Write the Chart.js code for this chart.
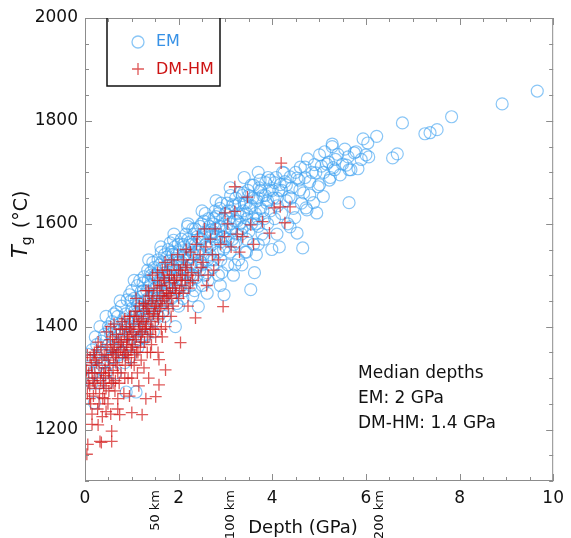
<!DOCTYPE html>
<html>
<head>
<meta charset="utf-8">
<script src="https://cdn.jsdelivr.net/npm/chart.js@4.4.0/dist/chart.umd.min.js"></script>
<style>
  body { margin: 0; background: #fff; }
  #wrap { width: 571px; height: 538px; }
</style>
</head>
<body>
<div id="wrap"><canvas id="tgChart" width="571" height="538"></canvas></div>
<script>
// tick labels
const xTicks = [0, 2, 4, 6, 8, 10];
const yTicks = [1200, 1400, 1600, 1800, 2000];
// secondary depth marks (km) and where they sit in GPa
const kmLabels = ["50 km", "100 km", "200 km"];
const kmAtGPa = [1.5, 3.1, 6.3];
const seriesNames = ["EM", "DM-HM"];
const noteLines = ["Median depths", "EM: 2 GPa", "DM-HM: 1.4 GPa"];

// EM points: [depth GPa, Tg °C]
const emPoints = [
  [0.05,1320],[0.07,1346],[0.1,1300],[0.12,1335],[0.2,1252],[0.18,1310],[0.25,1365],[0.28,1340],[0.3,1290],[0.15,1355],
  [0.32,1400],[0.35,1372],[0.38,1330],[0.4,1355],[0.42,1385],[0.45,1310],[0.48,1291],[0.5,1365],[0.52,1395],[0.55,1340],
  [0.58,1410],[0.6,1378],[0.33,1318],[0.44,1345],[0.56,1360],
  [0.62,1425],[0.65,1310],[0.67,1429],[0.7,1390],[0.72,1355],[0.75,1405],[0.78,1440],[0.8,1372],[0.82,1415],[0.85,1330],
  [0.88,1273],[0.9,1452],[0.63,1395],[0.68,1365],[0.76,1385],[0.84,1398],[0.87,1425],[0.71,1345],
  [0.92,1410],[0.95,1462],[0.97,1385],[1.0,1435],[1.02,1400],[1.05,1455],[1.08,1372],[1.09,1273],[1.1,1425],[1.12,1480],
  [1.15,1445],[1.18,1395],[1.2,1468],[0.98,1450],[1.03,1418],[1.14,1412],[1.17,1490],[1.06,1430],[1.13,1360],[1.19,1438],
  [1.22,1420],[1.24,1485],[1.26,1497],[1.28,1450],[1.3,1405],[1.32,1470],[1.34,1510],[1.36,1440],[1.38,1480],[1.4,1425],
  [1.42,1500],[1.44,1462],[1.46,1390],[1.48,1515],[1.5,1475],[1.23,1460],[1.29,1435],[1.35,1490],[1.41,1455],[1.45,1525],
  [1.49,1448],[1.27,1378],[1.33,1418],
  [1.52,1500],[1.54,1455],[1.56,1530],[1.58,1485],[1.6,1440],[1.62,1512],[1.64,1526],[1.66,1470],[1.68,1495],[1.7,1540],
  [1.72,1460],[1.74,1518],[1.76,1485],[1.78,1550],[1.8,1505],[1.53,1478],[1.57,1420],[1.63,1545],[1.67,1430],[1.71,1505],
  [1.75,1475],[1.79,1528],[1.61,1490],[1.69,1448],
  [1.82,1563],[1.84,1480],[1.86,1520],[1.88,1540],[1.9,1495],[1.92,1555],[1.93,1400],[1.95,1510],[1.97,1530],[2.0,1470],
  [2.02,1545],[2.04,1515],[2.06,1570],[2.08,1490],[2.1,1535],[1.85,1455],[1.89,1568],[1.94,1475],[1.99,1560],[2.03,1500],
  [2.07,1525],[2.09,1455],[1.83,1512],[1.96,1445],
  [2.12,1555],[2.14,1505],[2.16,1580],[2.18,1530],[2.2,1485],[2.22,1550],[2.25,1565],[2.27,1520],[2.3,1590],[2.32,1540],
  [2.34,1470],[2.36,1560],[2.38,1515],[2.4,1575],[2.13,1470],[2.19,1595],[2.24,1500],[2.29,1545],[2.33,1580],[2.37,1495],
  [2.15,1540],[2.26,1480],
  [2.42,1439],[2.44,1550],[2.46,1595],[2.48,1525],[2.5,1570],[2.52,1540],[2.54,1605],[2.56,1500],[2.58,1560],[2.6,1585],
  [2.62,1530],[2.64,1610],[2.66,1555],[2.68,1575],[2.7,1582],[2.45,1510],[2.51,1480],[2.57,1620],[2.63,1490],[2.67,1540],
  [2.49,1600],[2.61,1465],
  [2.72,1560],[2.74,1600],[2.76,1530],[2.78,1625],[2.8,1614],[2.82,1575],[2.84,1545],[2.86,1595],[2.88,1630],[2.9,1565],
  [2.92,1505],[2.94,1610],[2.97,1462],[2.98,1585],[3.0,1620],[2.73,1515],[2.79,1590],[2.85,1500],[2.91,1640],[2.96,1550],
  [2.77,1570],[2.89,1480],
  [3.02,1595],[3.04,1640],[3.06,1570],[3.08,1610],[3.1,1545],[3.12,1625],[3.14,1590],[3.16,1637],[3.18,1560],[3.2,1605],
  [3.22,1650],[3.24,1580],[3.26,1620],[3.28,1530],[3.3,1600],[3.05,1520],[3.11,1655],[3.17,1500],[3.23,1565],[3.29,1640],
  [3.32,1615],[3.34,1580],[3.36,1655],[3.38,1625],[3.4,1595],[3.42,1545],[3.44,1640],[3.46,1610],[3.48,1665],[3.5,1585],
  [3.52,1630],[3.54,1472],[3.56,1600],[3.58,1650],[3.6,1560],[3.62,1505],[3.35,1520],[3.45,1570],[3.55,1675],[3.39,1660],
  [3.64,1620],[3.67,1645],[3.7,1595],[3.72,1670],[3.75,1630],[3.78,1580],[3.8,1655],[3.83,1610],[3.86,1680],[3.88,1640],
  [3.9,1600],[3.93,1665],[3.96,1625],[3.99,1550],[3.66,1540],[3.74,1685],[3.82,1570],[3.91,1690],[3.69,1610],
  [4.02,1650],[4.05,1610],[4.08,1690],[4.11,1635],[4.14,1665],[4.17,1676],[4.2,1620],[4.25,1699],[4.27,1682],[4.3,1645],
  [4.33,1600],[4.36,1653],[4.38,1691],[4.38,1594],[4.42,1670],[4.45,1630],[4.48,1612],[4.1,1580],[4.22,1700],[4.15,1555],
  [4.53,1582],[4.53,1689],[4.57,1685],[4.59,1666],[4.62,1640],[4.65,1553],[4.72,1631],[4.74,1627],[4.75,1726],[4.8,1682],
  [4.8,1656],[4.85,1700],[4.88,1641],[4.93,1699],[4.95,1621],[4.98,1672],[4.7,1710],[4.67,1660],
  [5.01,1734],[5.01,1676],[5.05,1712],[5.09,1653],[5.16,1716],[5.2,1720],[5.22,1685],[5.24,1690],[5.28,1750],[5.28,1755],
  [5.3,1709],[5.33,1705],[5.4,1735],[5.45,1695],[5.5,1716],[5.12,1740],
  [5.58,1714],[5.62,1730],[5.64,1705],[5.64,1641],[5.68,1705],[5.75,1738],[5.79,1740],[5.83,1707],[5.94,1765],[6.0,1734],
  [6.04,1757],[6.06,1730],[6.23,1770],[5.9,1725],
  [6.57,1728],[6.67,1736],[6.78,1796],[7.26,1775],[7.37,1777],[7.52,1783],[7.83,1808],[8.91,1833],[9.66,1858],
  // denser core
  [0.4,1330],[0.55,1385],[0.7,1420],[0.8,1350],[0.9,1400],[0.95,1365],[1.0,1470],[1.05,1395],[1.1,1450],[1.15,1375],
  [1.2,1430],[1.25,1470],[1.3,1385],[1.35,1455],[1.4,1505],[1.45,1440],[1.5,1500],[1.55,1465],[1.6,1520],[1.65,1455],
  [1.7,1485],[1.75,1535],[1.8,1470],[1.85,1545],[1.9,1515],[1.95,1540],[2.0,1525],[2.05,1480],[2.1,1560],[2.15,1515],
  [2.2,1570],[2.25,1535],[2.3,1500],[2.35,1590],[2.4,1545],[2.45,1570],[2.5,1520],[2.55,1580],[2.6,1555],[2.65,1595],
  [2.7,1530],[2.75,1610],[2.8,1580],[2.85,1620],[2.9,1595],[2.95,1575],[3.0,1555],[3.05,1625],[3.1,1600],[3.15,1570],
  [3.2,1635],[3.25,1605],[3.3,1660],[3.35,1590],[3.4,1640],[3.45,1620],[3.5,1655],[3.55,1635],[3.6,1675],[3.65,1600],
  [3.7,1650],[3.75,1665],[3.8,1625],[3.85,1655],[3.9,1645],[3.95,1685],[4.0,1665],[4.05,1680],[4.1,1650],[4.2,1665],
  [4.3,1675],[4.4,1650],[4.5,1700],[4.6,1710],[4.7,1690],[4.9,1715],[5.1,1700],[5.35,1725],[5.55,1745],[1.12,1440],
  [1.47,1495],[1.77,1500],[2.28,1560],[2.73,1585],[0.6,1340],[0.5,1400],[0.35,1350],[0.25,1320],[0.15,1290],[0.22,1380],
  [0.45,1420],[0.75,1450],[1.05,1490],[1.36,1530],[1.62,1555],[1.9,1580],[2.2,1600],[2.5,1625],[2.8,1645],[3.1,1670],
  [3.4,1690],[3.7,1700],[2.0,1440],[2.3,1460],[2.6,1505],[2.9,1530],[3.2,1520],[3.45,1545],[3.7,1560],[1.7,1420],
  [1.45,1410],[1.2,1380],[0.95,1340],[3.6,1610],[3.0,1570],[2.4,1520]
];

// DM-HM points: [depth GPa, Tg °C]
const dmhmPoints = [
  [0.0,1330],[0.02,1300],[0.04,1152],[0.06,1171],[0.05,1270],[0.08,1310],[0.1,1285],[0.12,1250],[0.14,1325],[0.15,1230],
  [0.17,1295],[0.19,1345],[0.03,1315],[0.11,1340],[0.18,1265],[0.07,1290],
  [0.21,1310],[0.23,1280],[0.25,1355],[0.27,1240],[0.28,1209],[0.3,1325],[0.32,1177],[0.33,1295],[0.35,1175],[0.36,1340],
  [0.38,1262],[0.4,1310],[0.22,1335],[0.26,1300],[0.31,1270],[0.34,1360],[0.37,1225],[0.39,1290],
  [0.41,1345],[0.43,1320],[0.45,1280],[0.47,1365],[0.49,1250],[0.5,1335],[0.52,1300],[0.54,1375],[0.55,1230],[0.57,1197],
  [0.57,1177],[0.58,1350],[0.6,1315],[0.42,1260],[0.46,1390],[0.51,1275],[0.53,1325],[0.56,1290],[0.59,1380],[0.44,1305],
  [0.61,1340],[0.63,1365],[0.65,1295],[0.67,1385],[0.69,1325],[0.7,1260],[0.72,1350],[0.74,1229],[0.75,1395],[0.77,1310],
  [0.78,1370],[0.8,1340],[0.62,1405],[0.66,1330],[0.71,1375],[0.73,1290],[0.76,1355],[0.79,1410],[0.64,1275],[0.68,1350],
  [0.82,1360],[0.84,1385],[0.86,1325],[0.88,1400],[0.9,1345],[0.92,1300],[0.94,1375],[0.96,1420],[0.98,1355],[1.0,1233],
  [1.0,1390],[0.83,1270],[0.85,1415],[0.87,1345],[0.91,1380],[0.93,1340],[0.95,1265],[0.97,1395],[0.99,1330],[0.89,1365],
  [1.02,1365],[1.04,1405],[1.06,1345],[1.08,1430],[1.1,1380],[1.12,1310],[1.14,1395],[1.16,1440],[1.18,1360],[1.2,1415],
  [1.22,1229],[1.03,1385],[1.05,1325],[1.07,1375],[1.11,1420],[1.13,1350],[1.15,1285],[1.17,1400],[1.19,1370],[1.09,1455],
  [1.23,1390],[1.25,1430],[1.27,1370],[1.29,1445],[1.31,1405],[1.33,1350],[1.35,1420],[1.37,1460],[1.39,1385],[1.24,1410],
  [1.26,1320],[1.28,1395],[1.32,1435],[1.34,1380],[1.36,1300],[1.38,1425],[1.3,1470],
  [1.41,1410],[1.43,1450],[1.45,1395],[1.47,1475],[1.49,1430],[1.51,1264],[1.51,1380],[1.53,1445],[1.55,1490],[1.57,1415],
  [1.58,1287],[1.58,1336],[1.6,1460],[1.42,1365],[1.46,1425],[1.5,1400],[1.54,1470],[1.56,1350],[1.59,1435],[1.44,1500],
  [1.62,1440],[1.64,1480],[1.66,1420],[1.68,1495],[1.7,1455],[1.72,1316],[1.72,1400],[1.74,1470],[1.76,1510],[1.78,1435],
  [1.8,1485],[1.63,1395],[1.67,1460],[1.71,1525],[1.75,1445],[1.79,1460],[1.65,1510],
  [1.82,1465],[1.85,1500],[1.88,1440],[1.9,1520],[1.93,1475],[1.96,1495],[2.0,1455],[2.04,1369],[2.04,1510],[2.07,1480],
  [2.1,1530],[1.84,1420],[1.91,1490],[1.98,1540],[2.02,1470],[2.08,1500],[1.87,1475],
  [2.14,1490],[2.18,1520],[2.22,1475],[2.25,1545],[2.28,1505],[2.32,1530],[2.36,1417],[2.38,1560],[2.42,1500],[2.46,1540],
  [2.48,1515],[2.2,1440],[2.3,1490],[2.4,1575],[2.16,1550],
  [2.52,1525],[2.58,1555],[2.63,1500],[2.68,1570],[2.72,1540],[2.78,1590],[2.85,1530],[2.9,1560],[2.95,1439],[2.98,1575],
  [2.6,1480],[2.75,1510],[2.55,1590],
  [3.05,1600],[2.99,1621],[3.2,1624],[3.12,1555],[3.2,1672],[3.25,1580],[3.37,1575],[3.47,1652],[3.54,1598],[3.79,1604],
  [3.94,1582],[4.04,1631],[4.17,1633],[4.38,1633],[4.27,1602],[4.19,1718],[3.3,1545],[3.6,1560],
  // denser core
  [0.05,1345],[0.1,1260],[0.15,1310],[0.2,1290],[0.25,1330],[0.3,1250],[0.35,1310],[0.4,1285],[0.45,1345],[0.5,1310],
  [0.55,1355],[0.6,1290],[0.65,1345],[0.7,1310],[0.75,1370],[0.8,1395],[0.85,1350],[0.9,1375],[0.95,1400],[1.0,1360],
  [1.05,1420],[1.1,1350],[1.15,1410],[1.2,1385],[1.25,1445],[1.3,1400],[1.35,1440],[1.4,1395],[1.45,1455],[1.5,1440],
  [1.55,1420],[1.6,1480],[1.65,1450],[1.7,1490],[1.75,1465],[1.8,1500],[1.85,1455],[1.9,1490],[1.95,1465],[2.0,1510],
  [2.05,1490],[2.1,1465],[2.15,1515],[2.2,1500],[2.25,1485],[0.28,1370],[0.55,1400],[0.85,1300],[1.0,1300],[1.2,1335],
  [1.4,1350],[1.65,1380],[0.15,1210],[0.45,1235],[0.7,1240],[1.3,1260],[0.2,1350],[0.6,1360],[0.95,1420],[1.35,1470],
  [1.55,1505],[1.85,1530]
];

const emColor = "rgba(60, 160, 240, 0.6)";
const dmColor = "rgba(210, 25, 25, 0.72)";
const axisGray = "#8c8c8c";
const font = "DejaVu Sans";

// 坐标框、内向刻度、图例和注释
const decorPlugin = {
  id: "decor",
  afterDraw(chart) {
    const ctx = chart.ctx;
    const a = chart.chartArea;
    const xs = chart.scales.x;
    const ys = chart.scales.y;
    ctx.save();

    // frame
    ctx.strokeStyle = axisGray;
    ctx.lineWidth = 1;
    ctx.strokeRect(a.left + 0.5, a.top + 0.5, a.right - a.left - 1, a.bottom - a.top - 1);

    // inward ticks
    ctx.beginPath();
    for (let v = 0; v <= 10; v += 0.5) {
      const px = Math.round(xs.getPixelForValue(v)) + 0.5;
      const len = v % 2 === 0 ? 7 : 4;
      ctx.moveTo(px, a.bottom); ctx.lineTo(px, a.bottom - len);
      ctx.moveTo(px, a.top); ctx.lineTo(px, a.top + len);
    }
    for (let v = 1100; v <= 2000; v += 50) {
      const py = Math.round(ys.getPixelForValue(v)) + 0.5;
      const len = v % 200 === 0 ? 7 : 4;
      ctx.moveTo(a.left, py); ctx.lineTo(a.left + len, py);
      ctx.moveTo(a.right, py); ctx.lineTo(a.right - len, py);
    }
    ctx.stroke();

    // legend box (top edge sits on the frame)
    ctx.strokeStyle = "#111";
    ctx.lineWidth = 1.5;
    ctx.beginPath();
    ctx.moveTo(107, a.top); ctx.lineTo(107, 86); ctx.lineTo(220, 86); ctx.lineTo(220, a.top);
    ctx.stroke();

    ctx.lineWidth = 1.3;
    ctx.strokeStyle = emColor;
    ctx.beginPath(); ctx.arc(138, 42, 6, 0, Math.PI * 2); ctx.stroke();
    ctx.strokeStyle = dmColor;
    ctx.beginPath();
    ctx.moveTo(132, 69); ctx.lineTo(144, 69);
    ctx.moveTo(138, 63); ctx.lineTo(138, 75);
    ctx.stroke();

    ctx.font = "16px '" + font + "'";
    ctx.textAlign = "left";
    ctx.textBaseline = "middle";
    ctx.fillStyle = "rgb(55, 145, 230)";
    ctx.fillText(seriesNames[0], 156, 42);
    ctx.fillStyle = "rgb(205, 20, 20)";
    ctx.fillText(seriesNames[1], 156, 70);

    // note
    ctx.fillStyle = "#111";
    ctx.font = "17px '" + font + "'";
    ctx.textBaseline = "alphabetic";
    noteLines.forEach((t, i) => ctx.fillText(t, 358, 378 + i * 25));

    // x axis title
    ctx.font = "18px '" + font + "'";
    ctx.textAlign = "center";
    ctx.fillText("Depth (GPa)", 303, 533);

    // km labels, rotated
    ctx.font = "13px '" + font + "'";
    kmLabels.forEach((t, i) => {
      const px = xs.getPixelForValue(kmAtGPa[i]);
      ctx.save();
      ctx.translate(px, 490);
      ctx.rotate(-Math.PI / 2);
      ctx.textAlign = "right";
      ctx.textBaseline = "middle";
      ctx.fillText(t, 0, 0);
      ctx.restore();
    });

    // y axis title: T_g (°C)
    ctx.save();
    ctx.translate(27, 258);
    ctx.rotate(-Math.PI / 2);
    ctx.textAlign = "left";
    ctx.textBaseline = "alphabetic";
    ctx.font = "italic 21px '" + font + "'";
    ctx.fillText("T", 0, 0);
    let w = ctx.measureText("T").width;
    ctx.font = "14px '" + font + "'";
    ctx.fillText("g", w, 4);
    w += ctx.measureText("g").width + 2;
    ctx.font = "19px '" + font + "'";
    ctx.fillText(" (°C)", w, 0);
    ctx.restore();

    ctx.restore();
  },
};

new Chart(document.getElementById("tgChart"), {
  type: "scatter",
  data: {
    datasets: [
      {
        label: seriesNames[0],
        data: emPoints.map((p) => ({ x: p[0], y: p[1] })),
        pointStyle: "circle",
        pointRadius: 6,
        borderColor: emColor,
        backgroundColor: "rgba(0,0,0,0)",
        borderWidth: 1.2,
        order: 2,
      },
      {
        label: seriesNames[1],
        data: dmhmPoints.map((p) => ({ x: p[0], y: p[1] })),
        pointStyle: "cross",
        pointRadius: 6,
        borderColor: dmColor,
        backgroundColor: dmColor,
        borderWidth: 1.3,
        order: 1,
      },
    ],
  },
  options: {
    responsive: false,
    animation: false,
    events: [],
    layout: { padding: { top: 18, right: 11, left: 0, bottom: 0 } },
    plugins: { legend: { display: false }, tooltip: { enabled: false } },
    scales: {
      x: {
        type: "linear",
        min: 0,
        max: 10,
        afterBuildTicks: (s) => { s.ticks = xTicks.map((v) => ({ value: v })); },
        afterFit: (s) => { s.height = 57; },
        grid: { display: false, drawTicks: false },
        border: { display: false },
        ticks: { color: "#111", padding: 7, maxRotation: 0, font: { family: font, size: 17 }, callback: (v) => String(v) },
      },
      y: {
        type: "linear",
        min: 1100,
        max: 2000,
        afterBuildTicks: (s) => { s.ticks = yTicks.map((v) => ({ value: v })); },
        afterFit: (s) => { s.width = 85; },
        grid: { display: false, drawTicks: false },
        border: { display: false },
        ticks: { color: "#111", padding: 7, font: { family: font, size: 17 }, callback: (v) => String(v) },
      },
    },
  },
  plugins: [decorPlugin],
});
</script>
</body>
</html>
